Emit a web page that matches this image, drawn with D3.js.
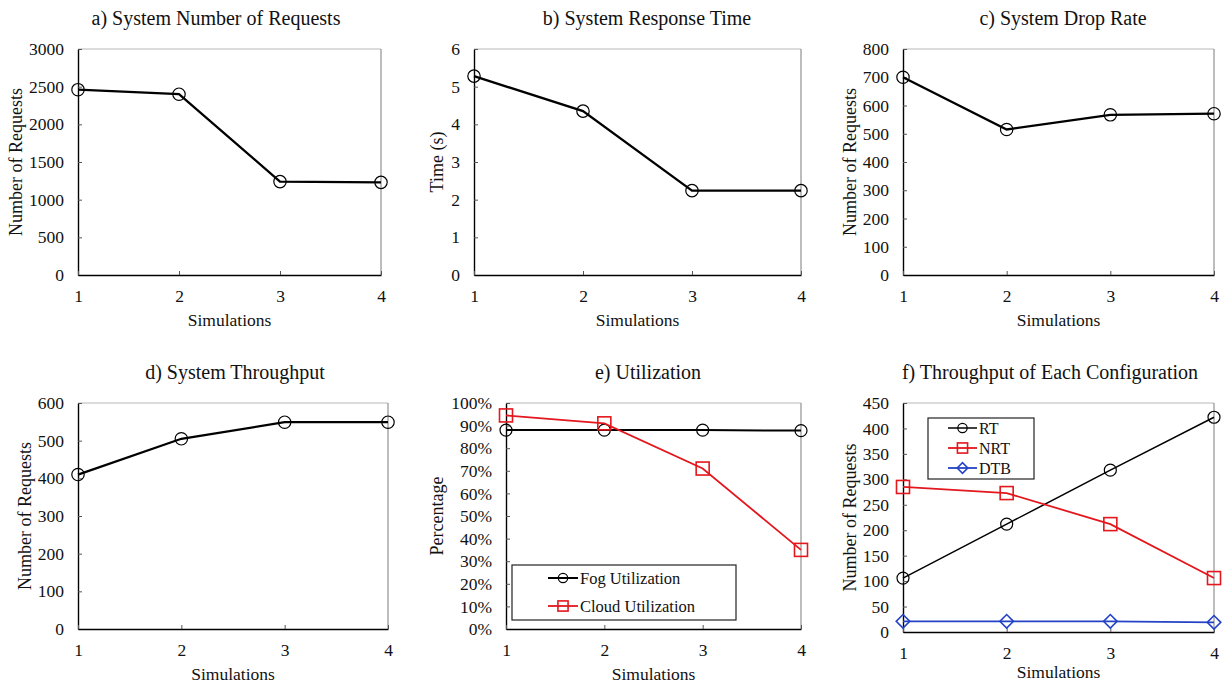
<!DOCTYPE html>
<html>
<head>
<meta charset="utf-8">
<script src="https://cdn.jsdelivr.net/npm/d3@7"></script>
<style>
  body { margin: 0; background: #fff; }
  svg { display: block; font-family: "Liberation Serif", "Times New Roman", serif; }
</style>
</head>
<body>
<div id="chart"></div>
<script>
// simulation runs on the x axis
var simulations = [1, 2, 3, 4];

// a) - d) single series panels
var systemRequests = [2460, 2400, 1240, 1230];
var responseTime = [5.28, 4.35, 2.24, 2.24];
var dropRate = [700, 515, 567, 571];
var throughput = [410, 505, 549, 549];

// e) utilization (%)
var fogUtilization = [88, 88, 88, 87.8];
var cloudUtilization = [94.5, 91, 71, 35];

// f) throughput per configuration
var rtThroughput = [106, 212, 318, 422];
var nrtThroughput = [285, 273, 212, 106];
var dtbThroughput = [21, 21, 21, 19];

// y tick labels
var ticksA = [0, 500, 1000, 1500, 2000, 2500, 3000];
var ticksB = [0, 1, 2, 3, 4, 5, 6];
var ticksC = [0, 100, 200, 300, 400, 500, 600, 700, 800];
var ticksD = [0, 100, 200, 300, 400, 500, 600];
var ticksE = [0, 10, 20, 30, 40, 50, 60, 70, 80, 90, 100];
var ticksF = [0, 50, 100, 150, 200, 250, 300, 350, 400, 450];

var RED = "#e3171d", BLUE = "#2443c6";

var svg = d3.select("#chart").append("svg")
    .attr("width", 1226)
    .attr("height", 686);

function drawPanel(p) {
    var g = svg.append("g").attr("class", "panel");

    var x = d3.scaleLinear().domain([1, 4]).range([p.left, p.right]);
    var y = d3.scaleLinear().domain([0, d3.max(p.ticks)]).range([p.bottom, p.top]);

    // frame top/right in light gray
    g.append("line").attr("x1", p.left).attr("x2", p.right).attr("y1", p.top).attr("y2", p.top)
        .attr("stroke", "#b8b8b8").attr("stroke-width", 1);
    g.append("line").attr("x1", p.right).attr("x2", p.right).attr("y1", p.top).attr("y2", p.bottom)
        .attr("stroke", "#9a9a9a").attr("stroke-width", 1.3);

    var yAxis = d3.axisLeft(y).tickValues(p.ticks)
        .tickSizeInner(-4).tickSizeOuter(0).tickPadding(14)
        .tickFormat(p.fmt || d3.format("d"));
    var ya = g.append("g").attr("transform", "translate(" + p.left + ",0)").call(yAxis);

    var xAxis = d3.axisBottom(x).tickValues(simulations)
        .tickSizeInner(-4).tickSizeOuter(0).tickPadding(15)
        .tickFormat(d3.format("d"));
    var xa = g.append("g").attr("transform", "translate(0," + p.bottom + ")").call(xAxis);

    [ya, xa].forEach(function (a) {
        a.select(".domain").attr("stroke", "#000").attr("stroke-width", 1.4);
        a.selectAll(".tick line").attr("stroke", "#555").attr("stroke-width", 1);
        a.selectAll(".tick text").attr("font-size", "17.5px").attr("fill", "#111")
            .attr("font-family", "Liberation Serif");
    });

    // title
    g.append("text")
        .attr("x", p.titleX).attr("y", p.top - 24)
        .attr("text-anchor", "middle")
        .attr("font-size", "20px").attr("fill", "#111")
        .text(p.title);

    // x label
    g.append("text")
        .attr("x", (p.left + p.right) / 2).attr("y", p.bottom + (p.xlabelOff || 51))
        .attr("text-anchor", "middle")
        .attr("font-size", "17.5px").attr("fill", "#111")
        .text("Simulations");

    // y label
    g.append("text")
        .attr("transform", "translate(" + p.ylabelX + "," + ((p.top + p.bottom) / 2) + ") rotate(-90)")
        .attr("text-anchor", "middle")
        .attr("dominant-baseline", "central")
        .attr("font-size", "18px").attr("fill", "#111")
        .text(p.ylabel);

    var line = d3.line()
        .x(function (d, i) { return x(simulations[i]); })
        .y(function (d) { return y(d); });

    p.series.forEach(function (s) {
        g.append("path")
            .datum(s.values)
            .attr("d", line)
            .attr("fill", "none")
            .attr("stroke", s.color)
            .attr("stroke-width", s.width);

        var pts = g.selectAll(null).data(s.values).enter();
        drawMarker(pts, s, function (d, i) { return x(simulations[i]); }, function (d) { return y(d); });
    });

    if (p.legend) {
        var L = p.legend;
        g.append("rect")
            .attr("x", L.x).attr("y", L.y).attr("width", L.w).attr("height", L.h)
            .attr("fill", "#fff").attr("stroke", "#222").attr("stroke-width", 1.2);
        p.series.forEach(function (s, i) {
            var cy = L.y + L.row0 + i * L.step;
            g.append("line")
                .attr("x1", L.lx1).attr("x2", L.lx2).attr("y1", cy).attr("y2", cy)
                .attr("stroke", s.color).attr("stroke-width", s.width);
            var one = g.selectAll(null).data([0]).enter();
            drawMarker(one, s, function () { return (L.lx1 + L.lx2) / 2; }, function () { return cy; }, true);
            g.append("text")
                .attr("x", L.lx2 + 2).attr("y", cy)
                .attr("dominant-baseline", "central")
                .attr("font-size", L.fs).attr("fill", "#111")
                .text(s.name);
        });
    }
}

function drawMarker(sel, s, fx, fy, small) {
    var k = small ? 0.78 : 1;
    if (s.marker === "circle") {
        sel.append("circle")
            .attr("cx", fx).attr("cy", fy).attr("r", s.size * k)
            .attr("fill", "none").attr("stroke", s.color).attr("stroke-width", 1.2);
    } else if (s.marker === "square") {
        var h = s.size * k;
        sel.append("rect")
            .attr("x", function (d, i) { return fx(d, i) - h; })
            .attr("y", function (d, i) { return fy(d, i) - h; })
            .attr("width", 2 * h).attr("height", 2 * h)
            .attr("fill", "none").attr("stroke", s.color).attr("stroke-width", 1.6);
    } else if (s.marker === "diamond") {
        var r = s.size * k;
        sel.append("path")
            .attr("d", function (d, i) {
                var cx = fx(d, i), cy = fy(d, i);
                return "M" + (cx - r) + "," + cy + "L" + cx + "," + (cy - r) +
                    "L" + (cx + r) + "," + cy + "L" + cx + "," + (cy + r) + "Z";
            })
            .attr("fill", "none").attr("stroke", s.color).attr("stroke-width", 1.6);
    }
}

drawPanel({
    left: 78, right: 381, top: 49, bottom: 275, titleX: 216, ylabelX: 16,
    title: "a) System Number of Requests", ylabel: "Number of Requests", ticks: ticksA,
    series: [{ name: "", values: systemRequests, color: "#000", width: 2.3, marker: "circle", size: 6.2 }]
});
drawPanel({
    left: 474, right: 801, top: 49, bottom: 275, titleX: 647, ylabelX: 437,
    title: "b) System Response Time", ylabel: "Time (s)", ticks: ticksB,
    series: [{ name: "", values: responseTime, color: "#000", width: 2.3, marker: "circle", size: 6.2 }]
});
drawPanel({
    left: 903, right: 1214, top: 49, bottom: 275, titleX: 1063, ylabelX: 850,
    title: "c) System Drop Rate", ylabel: "Number of Requests", ticks: ticksC,
    series: [{ name: "", values: dropRate, color: "#000", width: 2.3, marker: "circle", size: 6.2 }]
});
drawPanel({
    left: 78, right: 388, top: 403, bottom: 629, titleX: 235, ylabelX: 25,
    title: "d) System Throughput", ylabel: "Number of Requests", ticks: ticksD,
    series: [{ name: "", values: throughput, color: "#000", width: 2.3, marker: "circle", size: 6.2 }]
});
drawPanel({
    left: 506, right: 801, top: 403, bottom: 629, titleX: 648, ylabelX: 437,
    title: "e) Utilization", ylabel: "Percentage", ticks: ticksE,
    fmt: function (d) { return d + "%"; },
    series: [
        { name: "Fog Utilization", values: fogUtilization, color: "#000", width: 2, marker: "circle", size: 6 },
        { name: "Cloud Utilization", values: cloudUtilization, color: RED, width: 1.8, marker: "square", size: 6.5 }
    ],
    legend: { x: 512, y: 565, w: 224, h: 55, row0: 13, step: 28, lx1: 548, lx2: 578, fs: "16.5px" }
});
drawPanel({
    left: 903, right: 1214, top: 403, bottom: 632, titleX: 1050, ylabelX: 850, xlabelOff: 46,
    title: "f) Throughput of Each Configuration", ylabel: "Number of Requests", ticks: ticksF,
    series: [
        { name: "RT", values: rtThroughput, color: "#000", width: 1.5, marker: "circle", size: 6 },
        { name: "NRT", values: nrtThroughput, color: RED, width: 1.8, marker: "square", size: 6.5 },
        { name: "DTB", values: dtbThroughput, color: BLUE, width: 1.8, marker: "diamond", size: 6.8 }
    ],
    legend: { x: 928, y: 418, w: 106, h: 61, row0: 10, step: 20, lx1: 948, lx2: 977, fs: "16px" }
});
</script>
</body>
</html>
